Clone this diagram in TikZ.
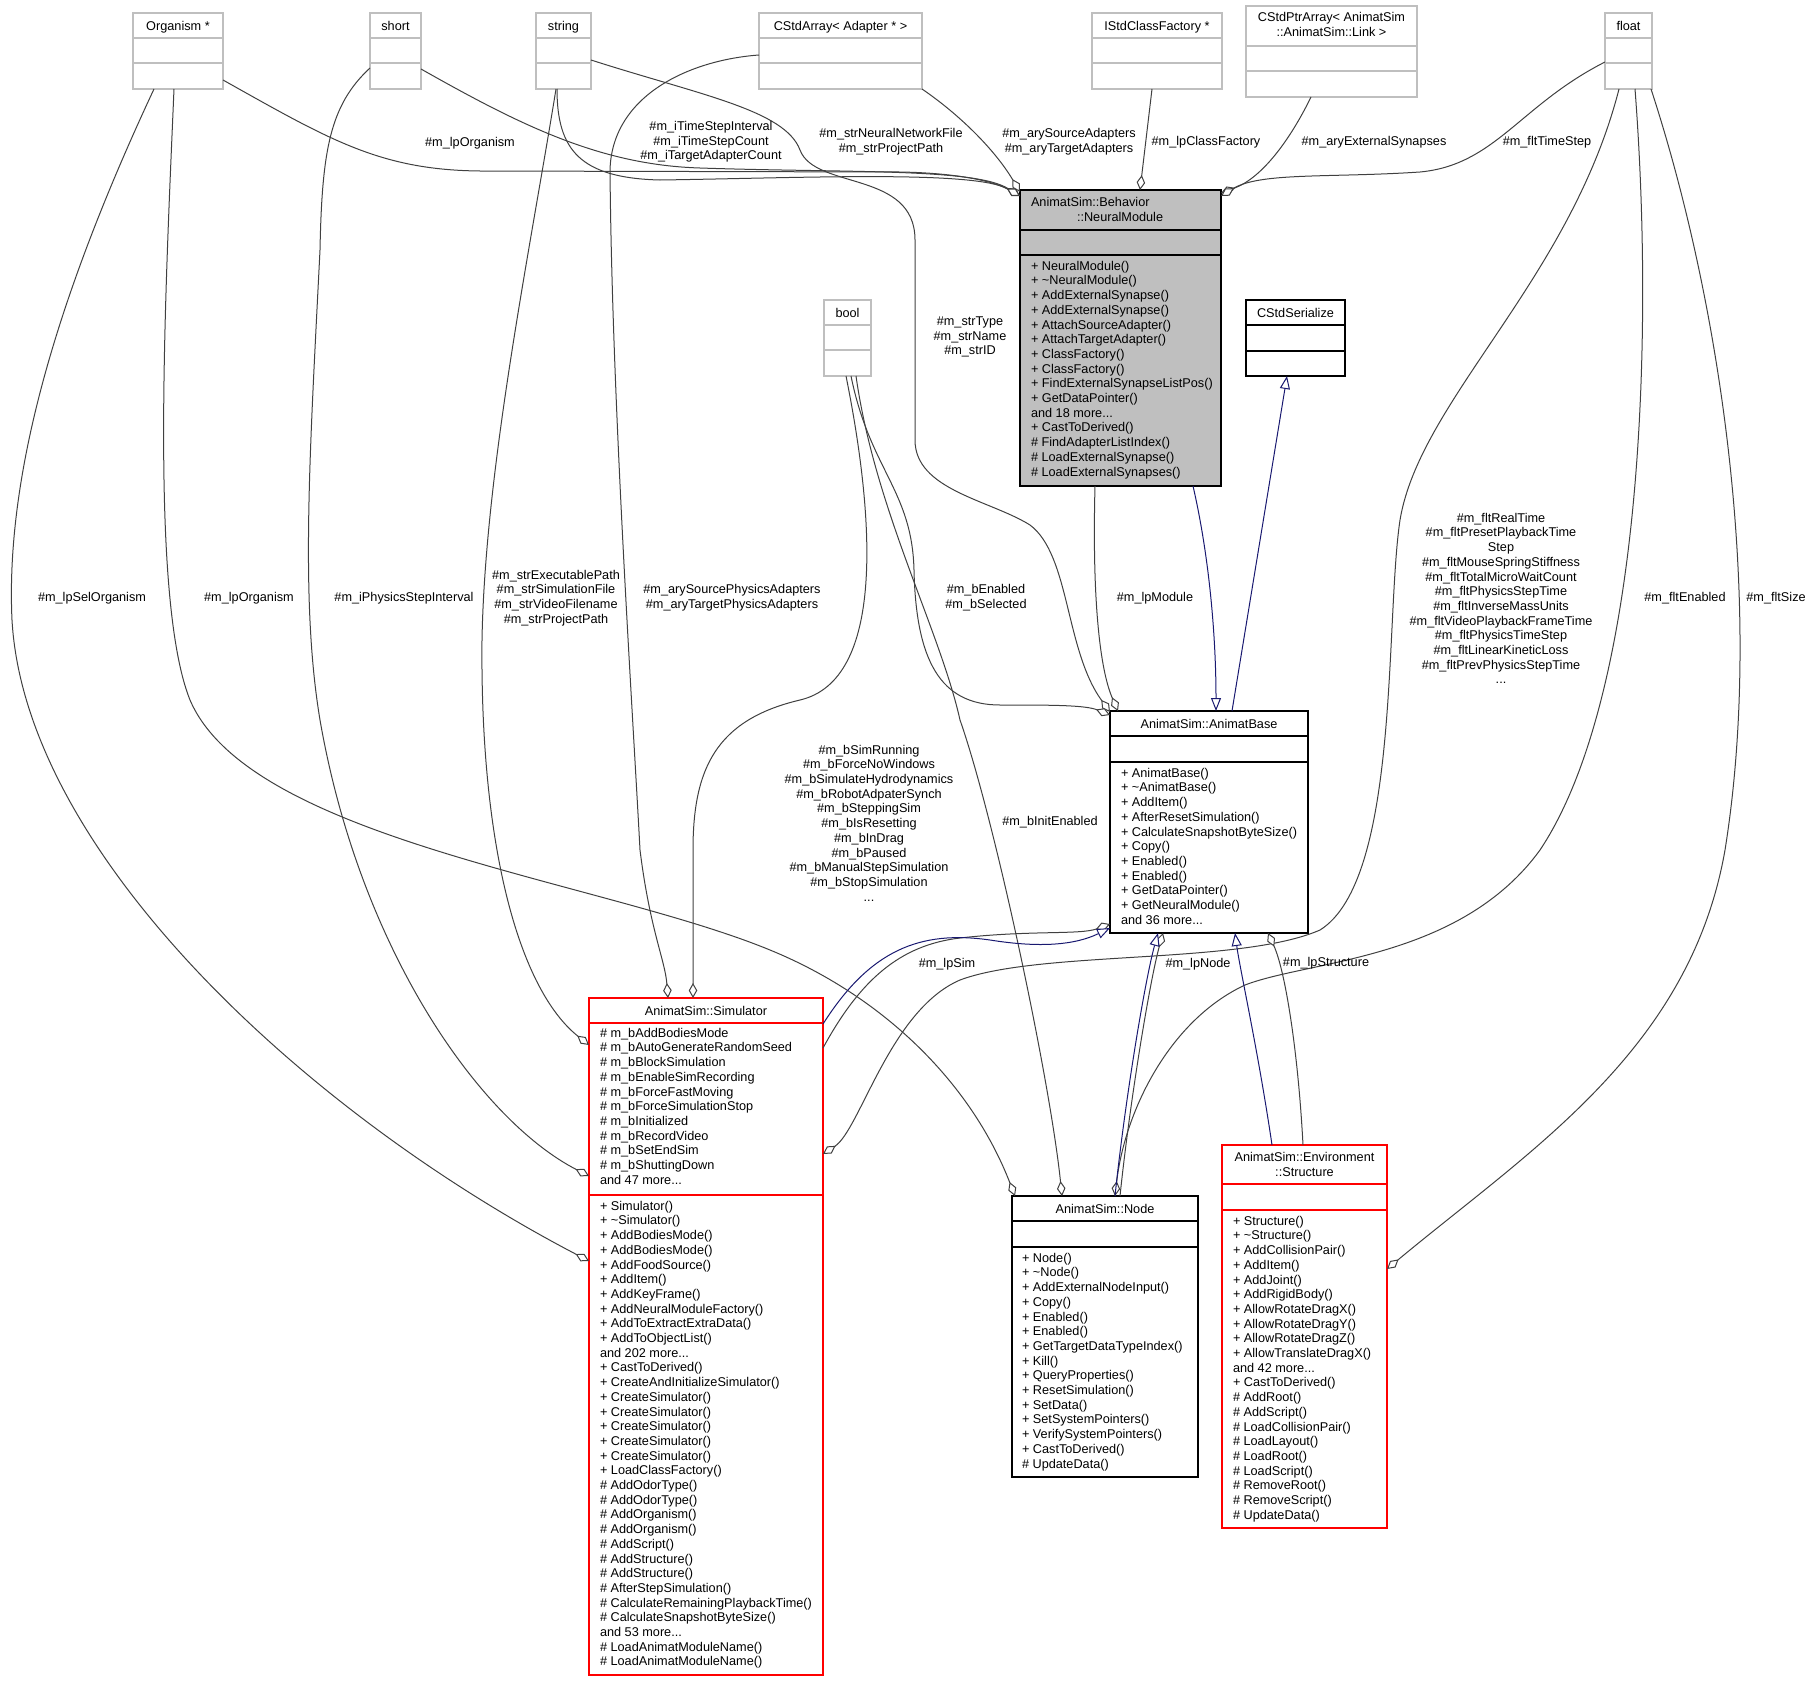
\documentclass[tikz,border=0pt]{standalone}
\usepackage{fontspec}
\setmainfont{Liberation Sans}
\usetikzlibrary{arrows.meta}
\definecolor{edgegray}{HTML}{404040}
\definecolor{boxgray}{HTML}{BFBFBF}
\definecolor{inhblue}{HTML}{191970}
\definecolor{hotred}{HTML}{FF0000}
\begin{document}
\begin{tikzpicture}[x=1pt, y=-1pt,
		every node/.style={font=\fontsize{12.7}{14.7}\selectfont, inner sep=0pt, outer sep=0pt},
		typebox/.style={draw=boxgray, line width=1.2pt, fill=white, anchor=north west},
		classbox/.style={draw=black, line width=1.2pt, fill=white, anchor=north west},
		hotbox/.style={classbox, draw=hotred},
		ttl/.style={anchor=base},
		members/.style={anchor=north west, align=left},
		elabel/.style={align=center},
		aggr/.style={draw=edgegray, line width=1pt, -{Diamond[length=15pt, width=8.5pt, fill=white]}},
		inh/.style={draw=inhblue, line width=1pt, -{Triangle[length=13pt, width=10pt, fill=white]}}]
	\useasboundingbox (0,0) rectangle (1820,1681);

	\node[typebox, minimum width=90pt, minimum height=76pt] (organism) at (133,13) {};
	\node[typebox, minimum width=51pt, minimum height=76pt] (shorttype) at (370,13) {};
	\node[typebox, minimum width=55pt, minimum height=76pt] (stringtype) at (536,13) {};
	\node[typebox, minimum width=163pt, minimum height=76pt] (adapterarray) at (759,13) {};
	\node[typebox, minimum width=130pt, minimum height=76pt] (classfactory) at (1092,13) {};
	\node[typebox, minimum width=171pt, minimum height=91pt] (linkarray) at (1246,6) {};
	\node[typebox, minimum width=47pt, minimum height=76pt] (floattype) at (1605,13) {};
	\node[typebox, minimum width=47pt, minimum height=76pt] (booltype) at (824,300) {};
	\node[classbox, minimum width=99pt, minimum height=76pt] (serialize) at (1246,300) {};
	\node[classbox, fill=boxgray, minimum width=201pt, minimum height=296pt] (neuralmodule) at (1020,190) {};
	\node[classbox, minimum width=198pt, minimum height=222pt] (animatbase) at (1110,711) {};
	\node[hotbox, minimum width=234pt, minimum height=677pt] (simulator) at (589,998) {};
	\node[classbox, minimum width=186pt, minimum height=281pt] (simnode) at (1012,1196) {};
	\node[hotbox, minimum width=165pt, minimum height=383pt] (structure) at (1222,1145) {};

	\foreach \bx/\col/\ya/\yb in {organism/boxgray/25pt/50pt, shorttype/boxgray/25pt/50pt, stringtype/boxgray/25pt/50pt,
			adapterarray/boxgray/25pt/50pt, classfactory/boxgray/25pt/50pt, linkarray/boxgray/40pt/65pt,
			floattype/boxgray/25pt/50pt, booltype/boxgray/25pt/50pt, serialize/black/25pt/51pt,
			neuralmodule/black/40pt/65pt, animatbase/black/25pt/51pt, simnode/black/25pt/51pt,
			structure/hotred/39pt/65pt, simulator/hotred/25pt/197pt}
		\draw[\col, line width=1.2pt] ([yshift=-\ya]\bx.north west) -- ([yshift=-\ya]\bx.north east)
			([yshift=-\yb]\bx.north west) -- ([yshift=-\yb]\bx.north east);

	\node[ttl] (organism-t) at ([yshift=-17pt]organism.north) {Organism *};
	\node[ttl] (shorttype-t) at ([yshift=-17pt]shorttype.north) {short};
	\node[ttl] (stringtype-t) at ([yshift=-17pt]stringtype.north) {string};
	\node[ttl] (adapterarray-t) at ([yshift=-17pt]adapterarray.north) {CStdArray< Adapter * >};
	\node[ttl] (classfactory-t) at ([yshift=-17pt]classfactory.north) {IStdClassFactory *};
	\node[anchor=north, align=center] (linkarray-t) at ([yshift=-6.5pt]linkarray.north) {CStdPtrArray< AnimatSim\\::AnimatSim::Link >};
	\node[ttl] (floattype-t) at ([yshift=-17pt]floattype.north) {float};
	\node[ttl] (booltype-t) at ([yshift=-17pt]booltype.north) {bool};
	\node[ttl] (serialize-t) at ([yshift=-17pt]serialize.north) {CStdSerialize};
	\node[members] (neuralmodule-t) at ([xshift=11pt, yshift=-7.3pt]neuralmodule.north west) {AnimatSim::Behavior\\\hspace*{46pt}::NeuralModule};
	\node[ttl] (animatbase-t) at ([yshift=-17pt]animatbase.north) {AnimatSim::AnimatBase};
	\node[ttl] (simulator-t) at ([yshift=-17pt]simulator.north) {AnimatSim::Simulator};
	\node[ttl] (simnode-t) at ([yshift=-17pt]simnode.north) {AnimatSim::Node};
	\node[anchor=north, align=center] (structure-t) at ([yshift=-7.3pt]structure.north) {AnimatSim::Environment\\::Structure};

	\node[members] (neuralmodule-m) at ([xshift=11pt, yshift=-71pt]neuralmodule.north west) {+ NeuralModule()\\+ \textasciitilde NeuralModule()\\+ AddExternalSynapse()\\+ AddExternalSynapse()\\+ AttachSourceAdapter()\\+ AttachTargetAdapter()\\+ ClassFactory()\\+ ClassFactory()\\+ FindExternalSynapseListPos()\\+ GetDataPointer()\\and 18 more...\\+ CastToDerived()\\\# FindAdapterListIndex()\\\# LoadExternalSynapse()\\\# LoadExternalSynapses()};
	\node[members] (animatbase-m) at ([xshift=11pt, yshift=-57pt]animatbase.north west) {+ AnimatBase()\\+ \textasciitilde AnimatBase()\\+ AddItem()\\+ AfterResetSimulation()\\+ CalculateSnapshotByteSize()\\+ Copy()\\+ Enabled()\\+ Enabled()\\+ GetDataPointer()\\+ GetNeuralModule()\\and 36 more...};
	\node[members] (simnode-m) at ([xshift=10pt, yshift=-57pt]simnode.north west) {+ Node()\\+ \textasciitilde Node()\\+ AddExternalNodeInput()\\+ Copy()\\+ Enabled()\\+ Enabled()\\+ GetTargetDataTypeIndex()\\+ Kill()\\+ QueryProperties()\\+ ResetSimulation()\\+ SetData()\\+ SetSystemPointers()\\+ VerifySystemPointers()\\+ CastToDerived()\\\# UpdateData()};
	\node[members] (structure-m) at ([xshift=11pt, yshift=-71pt]structure.north west) {+ Structure()\\+ \textasciitilde Structure()\\+ AddCollisionPair()\\+ AddItem()\\+ AddJoint()\\+ AddRigidBody()\\+ AllowRotateDragX()\\+ AllowRotateDragY()\\+ AllowRotateDragZ()\\+ AllowTranslateDragX()\\and 42 more...\\+ CastToDerived()\\\# AddRoot()\\\# AddScript()\\\# LoadCollisionPair()\\\# LoadLayout()\\\# LoadRoot()\\\# LoadScript()\\\# RemoveRoot()\\\# RemoveScript()\\\# UpdateData()};
	\node[members] (simulator-a) at ([xshift=11pt, yshift=-30pt]simulator.north west) {\# m\_bAddBodiesMode\\\# m\_bAutoGenerateRandomSeed\\\# m\_bBlockSimulation\\\# m\_bEnableSimRecording\\\# m\_bForceFastMoving\\\# m\_bForceSimulationStop\\\# m\_bInitialized\\\# m\_bRecordVideo\\\# m\_bSetEndSim\\\# m\_bShuttingDown\\and 47 more...};
	\node[members] (simulator-m) at ([xshift=11pt, yshift=-203pt]simulator.north west) {+ Simulator()\\+ \textasciitilde Simulator()\\+ AddBodiesMode()\\+ AddBodiesMode()\\+ AddFoodSource()\\+ AddItem()\\+ AddKeyFrame()\\+ AddNeuralModuleFactory()\\+ AddToExtractExtraData()\\+ AddToObjectList()\\and 202 more...\\+ CastToDerived()\\+ CreateAndInitializeSimulator()\\+ CreateSimulator()\\+ CreateSimulator()\\+ CreateSimulator()\\+ CreateSimulator()\\+ CreateSimulator()\\+ LoadClassFactory()\\\# AddOdorType()\\\# AddOdorType()\\\# AddOrganism()\\\# AddOrganism()\\\# AddScript()\\\# AddStructure()\\\# AddStructure()\\\# AfterStepSimulation()\\\# CalculateRemainingPlaybackTime()\\\# CalculateSnapshotByteSize()\\and 53 more...\\\# LoadAnimatModuleName()\\\# LoadAnimatModuleName()};

	\draw[aggr] ([yshift=9pt]organism.south east) .. controls (330,140) and (380,170) .. (480,171) -- (900,172) .. controls (960,173) and (995,182) .. ([yshift=-6pt]neuralmodule.north west);
	\draw[aggr] ([yshift=20pt]shorttype.south east) .. controls (520,125) and (600,165) .. (700,168) .. controls (850,173) and (975,168) .. ([yshift=-6pt]neuralmodule.north west);
	\draw[aggr] ([xshift=21pt]stringtype.south west) .. controls (557,150) and (580,178) .. (660,180) .. controls (800,178) and (975,170) .. ([yshift=-6pt]neuralmodule.north west);
	\draw[aggr] (adapterarray.south east) .. controls (960,115) and (995,150) .. ([yshift=-2pt]neuralmodule.north west);
	\draw[aggr] ([xshift=60pt]classfactory.south west) -- ([xshift=120pt]neuralmodule.north west);
	\draw[aggr] ([xshift=65pt]linkarray.south west) .. controls (1290,140) and (1262,178) .. ([yshift=-3pt]neuralmodule.north east);
	\draw[aggr] ([yshift=-49pt]floattype.north west) .. controls (1520,105) and (1495,165) .. (1420,172) .. controls (1330,178) and (1260,172) .. ([yshift=-6pt]neuralmodule.north east);
	\draw[aggr] ([yshift=-47pt]stringtype.north east) .. controls (700,95) and (785,110) .. (800,150) .. controls (815,190) and (915,170) .. (915,240) -- (915,440) .. controls (915,490) and (990,500) .. (1030,525) .. controls (1070,555) and (1065,650) .. ([yshift=-1pt]animatbase.north west);
	\draw[aggr] ([xshift=27pt]booltype.south west) .. controls (870,470) and (912,490) .. (914,570) .. controls (916,660) and (940,705) .. (1000,705) .. controls (1050,705) and (1085,705) .. ([yshift=-4pt]animatbase.north west);
	\draw[aggr] ([xshift=75pt]neuralmodule.south west) .. controls (1092,600) and (1100,670) .. ([xshift=8pt]animatbase.north west);
	\draw[inh] ([xshift=173pt]neuralmodule.south west) .. controls (1210,560) and (1216,640) .. ([xshift=106pt]animatbase.north west);
	\draw[inh] ([xshift=122pt]animatbase.north west) -- ([xshift=41pt]serialize.south west);
	\draw[aggr] ([xshift=22pt]booltype.south west) .. controls (875,520) and (885,680) .. (800,700) .. controls (715,720) and (693,770) .. (693,850) -- ([xshift=104pt]simulator.north west);
	\draw[aggr] ([yshift=-42pt]adapterarray.north west) .. controls (690,60) and (612,95) .. (610,170) .. controls (612,400) and (632,700) .. (640,850) .. controls (650,930) and (665,960) .. ([xshift=79pt]simulator.north west);
	\draw[aggr] ([xshift=20pt]stringtype.south west) .. controls (530,250) and (485,470) .. (482,640) .. controls (480,850) and (520,990) .. ([yshift=-47pt]simulator.north west);
	\draw[aggr] ([yshift=-55pt]shorttype.north west) .. controls (330,105) and (322,150) .. (320,250) .. controls (310,450) and (300,600) .. (320,720) .. controls (360,950) and (480,1120) .. ([yshift=-178pt]simulator.north west);
	\draw[aggr] ([xshift=21pt]organism.south west) .. controls (60,290) and (5,470) .. (12,620) .. controls (25,850) and (300,1110) .. ([yshift=-263pt]simulator.north west);
	\draw[aggr] ([xshift=41pt]organism.south west) .. controls (165,300) and (150,600) .. (190,700) .. controls (250,840) and (600,880) .. (770,950) .. controls (880,995) and (970,1080) .. ([xshift=3pt]simnode.north west);
	\draw[aggr] ([xshift=32pt]booltype.south west) .. controls (875,510) and (940,630) .. (960,720) .. controls (995,820) and (1050,1080) .. ([xshift=50pt]simnode.north west);
	\draw[aggr] ([xshift=14pt]floattype.south west) .. controls (1570,280) and (1420,400) .. (1400,520) .. controls (1385,620) and (1400,880) .. (1320,930) .. controls (1240,965) and (1040,950) .. (960,980) .. controls (890,1010) and (860,1130) .. ([yshift=-156pt]simulator.north east);
	\draw[aggr] ([xshift=30pt]floattype.south west) .. controls (1655,350) and (1640,700) .. (1540,850) .. controls (1460,960) and (1310,960) .. (1245,985) .. controls (1170,1020) and (1125,1110) .. ([xshift=103pt]simnode.north west);
	\draw[aggr] ([xshift=46pt]floattype.south west) .. controls (1720,300) and (1765,600) .. (1725,850) .. controls (1690,1050) and (1530,1150) .. ([yshift=-124pt]structure.north east);
	\draw[aggr] ([xshift=108pt]simnode.north west) .. controls (1130,1100) and (1150,980) .. ([xshift=53pt]animatbase.south west);
	\draw[inh] ([xshift=103pt]simnode.north west) .. controls (1125,1100) and (1145,980) .. ([xshift=48pt]animatbase.south west);
	\draw[inh] ([xshift=50pt]structure.north west) .. controls (1258,1050) and (1240,970) .. ([xshift=125pt]animatbase.south west);
	\draw[aggr] ([xshift=81pt]structure.north west) .. controls (1298,1050) and (1285,970) .. ([xshift=158pt]animatbase.south west);
	\draw[aggr] ([yshift=-50pt]simulator.north east) .. controls (860,980) and (900,945) .. (960,938) .. controls (1030,930) and (1080,935) .. ([yshift=9pt]animatbase.south west);
	\draw[inh] ([yshift=-26pt]simulator.north east) .. controls (870,950) and (920,930) .. (990,940) .. controls (1040,948) and (1075,945) .. ([yshift=5pt]animatbase.south west);

	\node[elabel] (l-organism-nm) at (470,143) {\#m\_lpOrganism};
	\node[elabel] (l-short-nm) at (711,142) {\#m\_iTimeStepInterval\\\#m\_iTimeStepCount\\\#m\_iTargetAdapterCount};
	\node[elabel] (l-string-nm) at (891,142) {\#m\_strNeuralNetworkFile\\\#m\_strProjectPath};
	\node[elabel] (l-adapter-nm) at (1069,142) {\#m\_arySourceAdapters\\\#m\_aryTargetAdapters};
	\node[elabel] (l-factory-nm) at (1206,142) {\#m\_lpClassFactory};
	\node[elabel] (l-link-nm) at (1374,142) {\#m\_aryExternalSynapses};
	\node[elabel] (l-float-nm) at (1547,142) {\#m\_fltTimeStep};
	\node[elabel] (l-string-ab) at (970,337) {\#m\_strType\\\#m\_strName\\\#m\_strID};
	\node[elabel] (l-bool-ab) at (986,598) {\#m\_bEnabled\\\#m\_bSelected};
	\node[elabel] (l-nm-ab) at (1155,598) {\#m\_lpModule};
	\node[elabel] (l-float-sim) at (1501,598.5) {\#m\_fltRealTime\\\#m\_fltPresetPlaybackTime\\Step\\\#m\_fltMouseSpringStiffness\\\#m\_fltTotalMicroWaitCount\\\#m\_fltPhysicsStepTime\\\#m\_fltInverseMassUnits\\\#m\_fltVideoPlaybackFrameTime\\\#m\_fltPhysicsTimeStep\\\#m\_fltLinearKineticLoss\\\#m\_fltPrevPhysicsStepTime\\...};
	\node[elabel] (l-float-node) at (1685,598) {\#m\_fltEnabled};
	\node[elabel] (l-float-struct) at (1776,598) {\#m\_fltSize};
	\node[elabel] (l-organism-sim) at (92,598) {\#m\_lpSelOrganism};
	\node[elabel] (l-organism-node) at (249,598) {\#m\_lpOrganism};
	\node[elabel] (l-short-sim) at (404,598) {\#m\_iPhysicsStepInterval};
	\node[elabel] (l-string-sim) at (556,598) {\#m\_strExecutablePath\\\#m\_strSimulationFile\\\#m\_strVideoFilename\\\#m\_strProjectPath};
	\node[elabel] (l-adapter-sim) at (732,598) {\#m\_arySourcePhysicsAdapters\\\#m\_aryTargetPhysicsAdapters};
	\node[elabel] (l-bool-sim) at (869,823) {\#m\_bSimRunning\\\#m\_bForceNoWindows\\\#m\_bSimulateHydrodynamics\\\#m\_bRobotAdpaterSynch\\\#m\_bSteppingSim\\\#m\_bIsResetting\\\#m\_bInDrag\\\#m\_bPaused\\\#m\_bManualStepSimulation\\\#m\_bStopSimulation\\...};
	\node[elabel] (l-bool-node) at (1050,822) {\#m\_bInitEnabled};
	\node[elabel] (l-sim-ab) at (947,964) {\#m\_lpSim};
	\node[elabel] (l-node-ab) at (1198,964) {\#m\_lpNode};
	\node[elabel] (l-struct-ab) at (1326,963) {\#m\_lpStructure};
\end{tikzpicture}
\end{document}
